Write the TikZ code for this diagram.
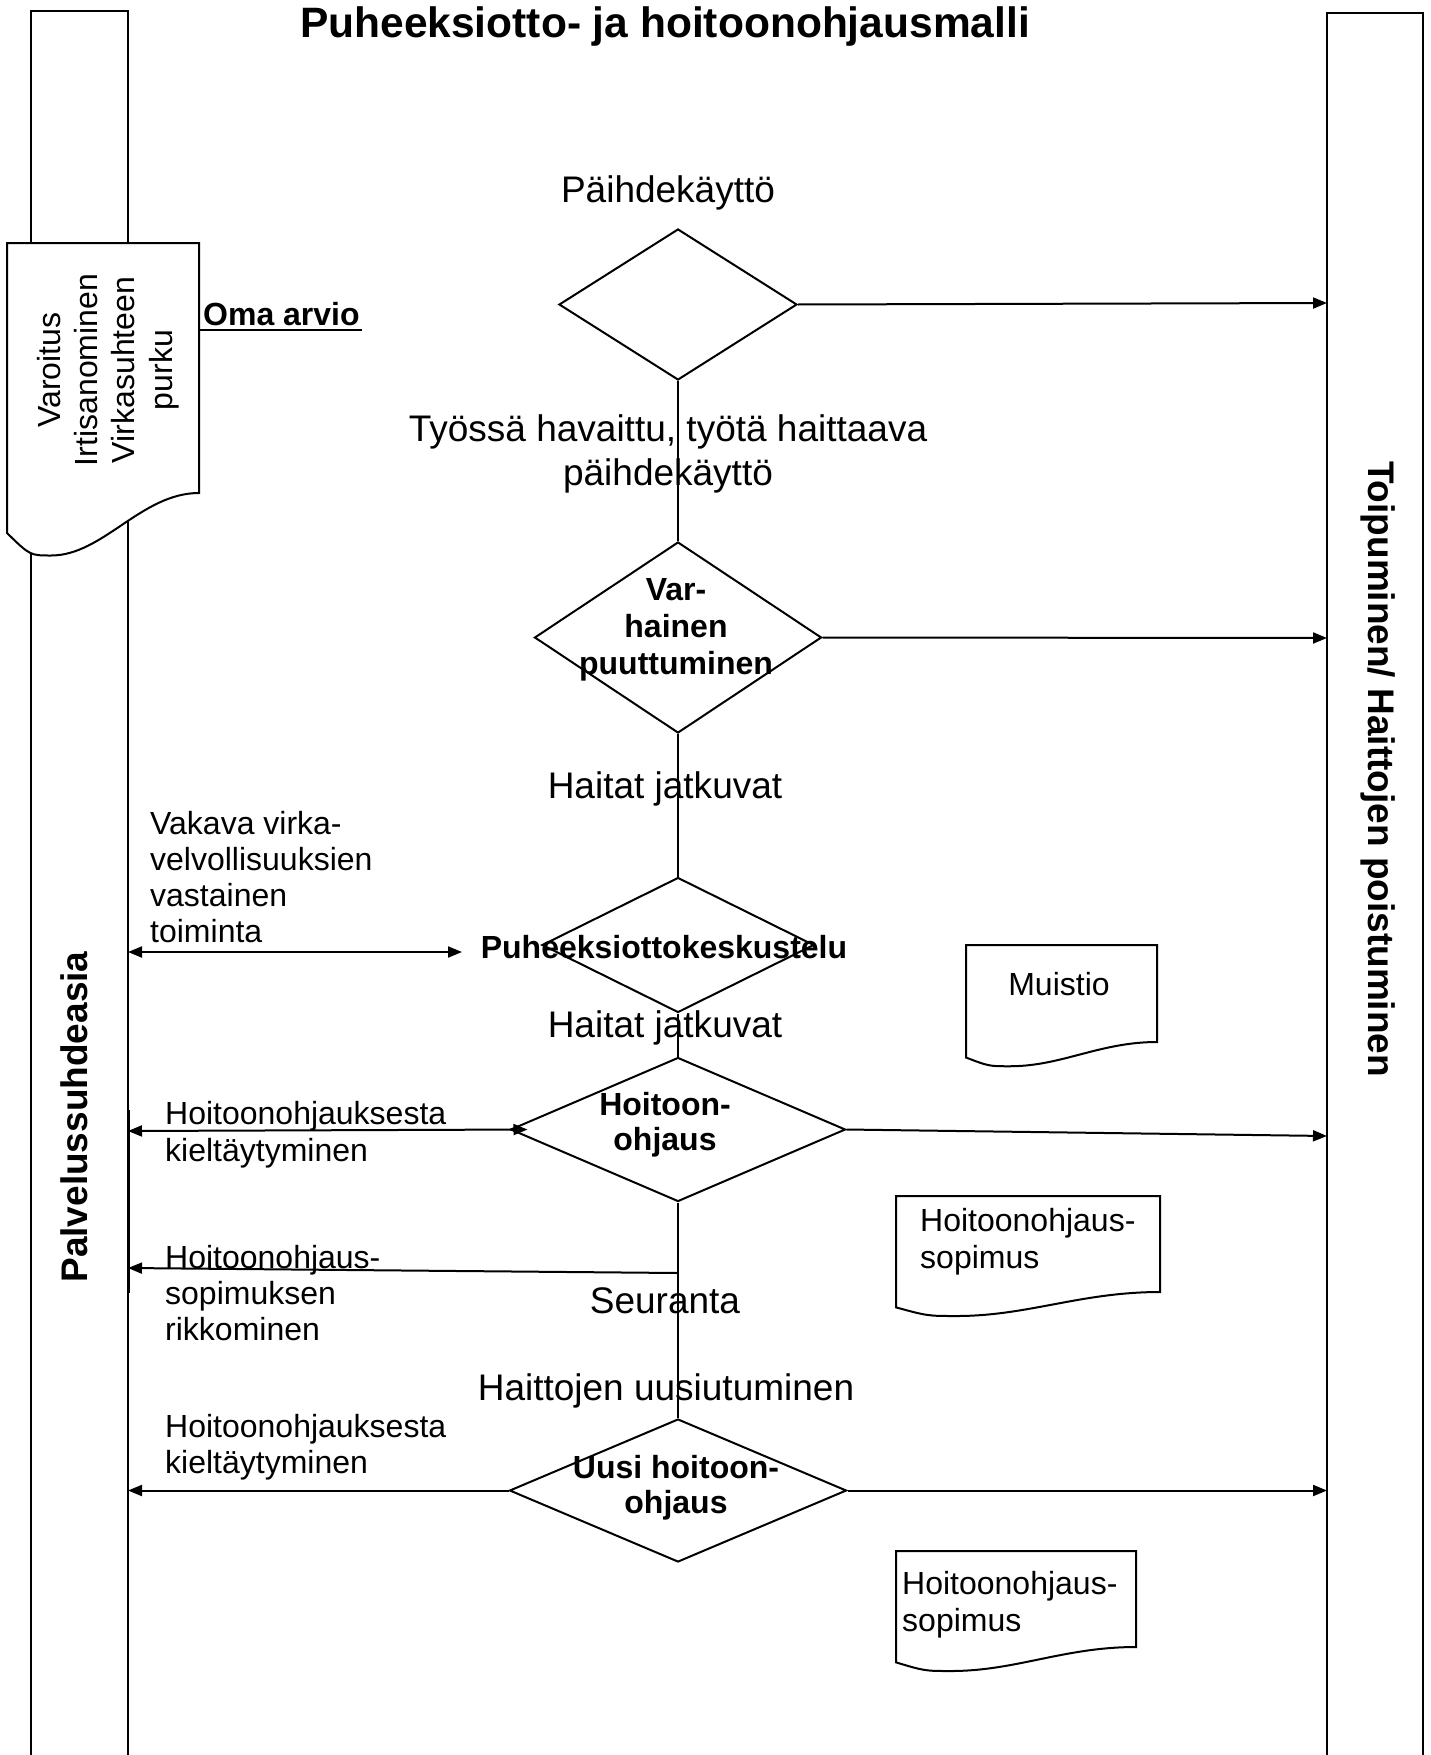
\documentclass[tikz,border=0pt]{standalone}
\usepackage{fontspec}
\setmainfont{Liberation Sans}
\usetikzlibrary{arrows.meta,shapes.geometric}
\tikzset{
  ln/.style={line width=2pt},
  arr/.style={ln, -{Triangle[length=14pt,width=11pt]}},
  darr/.style={ln, {Triangle[length=14pt,width=11pt]}-{Triangle[length=14pt,width=11pt]}},
  dia/.style={draw, ln, diamond, inner sep=0pt},
  bigtxt/.style={inner sep=0pt, font=\fontsize{37}{44.5}\selectfont},
  smltxt/.style={inner sep=0pt, font=\fontsize{32}{36}\selectfont},
  bldtxt/.style={inner sep=0pt, font=\bfseries\fontsize{32}{36}\selectfont},
  lanelbl/.style={inner sep=0pt, font=\bfseries\fontsize{37}{41}\selectfont},
  titletxt/.style={inner sep=0pt, font=\bfseries\fontsize{42.5}{48}\selectfont},
  docsty/.style={draw, line width=2pt, fill=white},
  lanesty/.style={line width=1.8pt},
}
\newcommand\docpath[4]{(#1,#2) -- ({#1+#3},#2) -- ({#1+#3},{#2+#4}) .. controls ({#1+0.7*#3},{#2+#4}) and ({#1+0.5*#3},{#2+1.25*#4}) .. ({#1+0.23*#3},{#2+1.25*#4}) .. controls ({#1+0.12*#3},{#2+1.25*#4}) .. (#1,{#2+1.16*#4}) -- cycle}
\begin{document}
\begin{tikzpicture}[x=1pt,y=-1pt]
\useasboundingbox (0,0) rectangle (1430,1755);
\fill[white] (0,0) rectangle (1430,1755);
% swimlanes
\draw[lanesty] (31,1770) -- (31,11) -- (128,11) -- (128,1770);
\draw[lanesty] (1327,1770) -- (1327,13) -- (1423,13) -- (1423,1770);
\draw[line width=2.2pt] (129,1110) -- (129,1293);
% title
\node[titletxt, anchor=base] (title) at (665,38) {Puheeksiotto- ja hoitoonohjausmalli};
% document shapes
\draw[docsty] \docpath{7}{243}{192}{250};
\draw[docsty] \docpath{966}{945}{191}{97};
\draw[docsty] \docpath{896}{1196}{264}{96};
\draw[docsty] \docpath{896}{1551}{240}{96};
% texts in document shapes
\node[smltxt, rotate=90, align=center, font=\fontsize{32}{37.3}\selectfont] (varo) at (108,370) {Varoitus\\Irtisanominen\\Virkasuhteen\\purku};
\node[smltxt, anchor=base] (muistio) at (1059,995) {Muistio};
\node[smltxt, align=left, anchor=west, font=\fontsize{32}{37}\selectfont] (sop1) at (920,1242) {Hoitoonohjaus-\\sopimus};
\node[smltxt, align=left, anchor=west, font=\fontsize{32}{37}\selectfont] (sop2) at (902,1605) {Hoitoonohjaus-\\sopimus};
% Oma arvio
\coordinate (varR) at (199,330);
\coordinate (omaend) at (362,330);
\node[bldtxt, anchor=base west] (oma) at (203,325) {Oma arvio};
\draw[ln] (varR) -- (omaend);
% diamonds
\node[dia, minimum width=238pt, minimum height=151pt] (d1) at (678,304.5) {};
\node[dia, minimum width=287pt, minimum height=191pt] (d2) at (678,637.5) {};
\node[dia, minimum width=272pt, minimum height=135pt] (d3) at (678,945) {};
\node[dia, minimum width=335pt, minimum height=144pt] (d4) at (678,1129.5) {};
\node[dia, minimum width=337pt, minimum height=143pt] (d5) at (678,1490.5) {};
% labels
\node[bigtxt, anchor=base] (t1) at (668,203) {Päihdekäyttö};
\node[bigtxt, align=center] (t2) at (668,454) {Työssä havaittu, työtä haittaava\\päihdekäyttö};
\node[bldtxt, align=center, font=\bfseries\fontsize{32}{37}\selectfont] (t3) at (676,630) {Var-\\hainen\\puuttuminen};
\node[bigtxt, anchor=base] (t4) at (665,798) {Haitat jatkuvat};
\node[smltxt, align=left, anchor=west] (t5) at (150,877) {Vakava virka-\\velvollisuuksien\\vastainen\\toiminta};
\node[bldtxt, anchor=base] (t6) at (664,958) {Puheeksiottokeskustelu};
\node[bigtxt, anchor=base] (t7) at (665,1037) {Haitat jatkuvat};
\node[bldtxt, align=center, font=\bfseries\fontsize{32}{35}\selectfont] (t8) at (665,1125) {Hoitoon-\\ohjaus};
\node[smltxt, align=left, anchor=west, font=\fontsize{32}{37}\selectfont] (t9) at (165,1135) {Hoitoonohjauksesta\\kieltäytyminen};
\node[smltxt, align=left, anchor=west] (t10) at (165,1293) {Hoitoonohjaus-\\sopimuksen\\rikkominen};
\node[bigtxt, anchor=base] (t11) at (665,1313) {Seuranta};
\node[bigtxt, anchor=base] (t12) at (666,1400) {Haittojen uusiutuminen};
\node[smltxt, align=left, anchor=west] (t13) at (165,1447) {Hoitoonohjauksesta\\kieltäytyminen};
\node[bldtxt, align=center, font=\bfseries\fontsize{32}{35}\selectfont] (t14) at (676,1488) {Uusi hoitoon-\\ohjaus};
% lane labels
\node[lanelbl, rotate=90, anchor=base] (pal) at (87,1117) {Palvelussuhdeasia};
\node[lanelbl, rotate=-90, anchor=base] (toi) at (1368,769) {Toipuminen/ Haittojen poistuminen};
% connector end points on the lanes
\coordinate (r1) at (1327,303);
\coordinate (r2) at (1327,638);
\coordinate (r3) at (1327,1136);
\coordinate (r4) at (1327,1490.5);
\coordinate (l1) at (128,952);
\coordinate (m1) at (462,952);
\coordinate (l2) at (128,1131);
\coordinate (l3) at (128,1268);
\coordinate (br) at (678,1273);
\coordinate (l4) at (128,1490.5);
% connectors
\draw[arr] (d1.east) -- (r1);
\draw[ln] (d1.south) -- (d2.north);
\draw[arr] (d2.east) -- (r2);
\draw[ln] (d2.south) -- (d3.north);
\draw[darr] (l1) -- (m1);
\draw[ln] (d3.south) -- (d4.north);
\draw[darr] (l2) -- ([xshift=18pt]d4.west);
\draw[arr] (d4.east) -- (r3);
\draw[ln] (d4.south) -- (d5.north);
\draw[arr] (br) -- (l3);
\draw[arr] (d5.west) -- (l4);
\draw[arr] (d5.east) -- (r4);
\end{tikzpicture}
\end{document}
